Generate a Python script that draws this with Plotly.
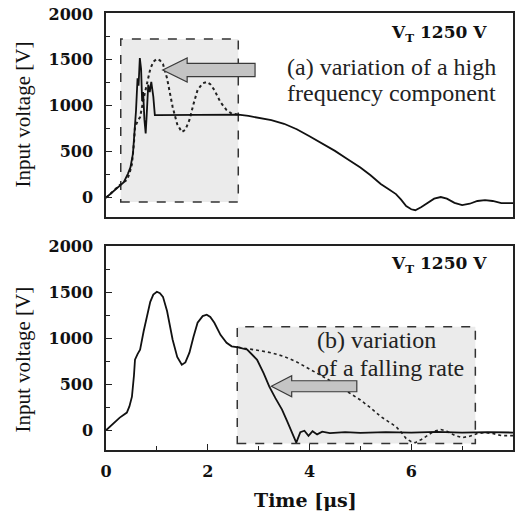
import plotly.graph_objects as go

# ---------------- data ----------------
# early part with a high-frequency component (top panel, solid)
fast_early_t = [0, 0.1, 0.2, 0.27, 0.35, 0.43, 0.48, 0.53, 0.56, 0.59, 0.62, 0.64, 0.665, 0.69,
                0.71, 0.73, 0.755, 0.78, 0.80, 0.83, 0.86, 0.89, 0.93, 0.96, 1.0, 1.5, 2.0, 2.4, 2.6]
fast_early_v = [0, 50, 95, 125, 170, 260, 330, 480, 700, 950, 1300, 1220, 1520, 1400,
                1050, 1150, 850, 700, 900, 1230, 1150, 1260, 1100, 900, 900, 900, 900, 905, 905]

# early part with slow oscillation (top panel dotted, bottom panel solid)
slow_early_t = [0, 0.1, 0.2, 0.27, 0.35, 0.41, 0.46, 0.51, 0.55, 0.57, 0.62, 0.67, 0.74, 0.80, 0.87,
                0.93, 1.0, 1.06, 1.12, 1.2, 1.31, 1.40, 1.49, 1.56, 1.64, 1.72, 1.80, 1.9, 1.98,
                2.05, 2.13, 2.25, 2.37, 2.47, 2.56, 2.6]
slow_early_v = [0, 55, 100, 138, 170, 193, 260, 367, 600, 769, 830, 878, 1080, 1237, 1400,
                1480, 1510, 1495, 1455, 1300, 987, 800, 715, 740, 846, 1020, 1172, 1245, 1260,
                1235, 1172, 1040, 954, 915, 911, 905]

# slow falling tail (top panel solid, bottom panel dotted)
slow_tail_t = [2.6, 2.8, 3.0, 3.25, 3.5, 3.75, 4.0, 4.25, 4.5, 4.75, 5.0, 5.2, 5.4, 5.55, 5.7,
               5.8, 5.9, 6.0, 6.08, 6.2, 6.3, 6.45, 6.58, 6.7, 6.85, 7.0, 7.15, 7.3, 7.45, 7.6,
               7.77, 8.0]
slow_tail_v = [905, 890, 870, 845, 805, 745, 670, 590, 510, 420, 330, 245, 150, 95, 40,
               -20, -90, -125, -135, -100, -65, -10, 8, -10, -55, -80, -65, -35, -25, -35,
               -58, -58]

# fast falling tail (bottom panel solid)
fast_tail_t = [2.6, 2.78, 2.97, 3.1, 3.21, 3.33, 3.46, 3.56, 3.66, 3.74, 3.82, 3.90, 3.98, 4.06,
               4.15, 4.25, 4.4, 4.7, 5.0, 5.5, 6.0, 6.5, 7.0, 7.5, 8.0]
fast_tail_v = [905, 878, 769, 620, 476, 350, 225, 100, -25, -134, -20, -5, -60, -10,
               -45, -15, -30, -20, -28, -20, -25, -18, -25, -20, -25]

x_ticks = [0, 2, 4, 6, 8]
y_ticks = [0, 500, 1000, 1500, 2000]
y_title = "Input voltage [V]"
x_title = "Time [\u03bcs]"
vt_label = "V<sub>T</sub> 1250 V"
text_a = ["(a) variation of a high", "frequency component"]
text_b = ["(b) variation", "of a falling rate"]

# ---------------- figure ----------------
top_solid_t = fast_early_t + slow_tail_t[1:]
top_solid_v = fast_early_v + slow_tail_v[1:]
bot_solid_t = slow_early_t + fast_tail_t[1:]
bot_solid_v = slow_early_v + fast_tail_v[1:]

fig = go.Figure()
# top panel
fig.add_trace(go.Scatter(x=slow_early_t, y=slow_early_v, mode="lines", xaxis="x2", yaxis="y2",
                         line=dict(color="#222", width=2, dash="dot")))
fig.add_trace(go.Scatter(x=top_solid_t, y=top_solid_v, mode="lines", xaxis="x2", yaxis="y2",
                         line=dict(color="#111", width=1.8)))
# bottom panel
fig.add_trace(go.Scatter(x=slow_tail_t, y=slow_tail_v, mode="lines", xaxis="x", yaxis="y",
                         line=dict(color="#222", width=1.6, dash="dot")))
fig.add_trace(go.Scatter(x=bot_solid_t, y=bot_solid_v, mode="lines", xaxis="x", yaxis="y",
                         line=dict(color="#111", width=1.8)))

tickfont = dict(family="DejaVu Serif", size=16, color="#111", weight="bold")
axline = dict(showline=True, linecolor="#222", linewidth=1.5, mirror=True, showgrid=False,
              zeroline=False)

fig.update_layout(
    width=518, height=513, showlegend=False,
    margin=dict(l=106, r=3, t=13, b=63),
    paper_bgcolor="white", plot_bgcolor="white",
    xaxis=dict(domain=[0, 1], range=[0, 8], anchor="y", tickvals=x_ticks, ticks="inside",
               ticklen=6, tickwidth=1.3, tickcolor="#222", tickfont=tickfont,
               ticklabelstandoff=6,
               minor=dict(dtick=1, ticks="inside", ticklen=4, tickwidth=1.2, tickcolor="#222"),
               **axline),
    yaxis=dict(domain=[0, 0.467], range=[-215, 2010], anchor="x", tickvals=y_ticks,
               ticks="inside", ticklen=6, tickwidth=1.3, tickcolor="#222", tickfont=tickfont,
               ticklabelstandoff=8,
               minor=dict(dtick=250, tick0=0, ticks="inside", ticklen=4, tickwidth=1.2,
                          tickcolor="#222"),
               **axline),
    xaxis2=dict(domain=[0, 1], range=[0, 8], anchor="y2", showticklabels=False, ticks="",
                **axline),
    yaxis2=dict(domain=[0.533, 1], range=[-210, 2010], anchor="x2", tickvals=y_ticks,
                ticks="inside", ticklen=6, tickwidth=1.3, tickcolor="#222", tickfont=tickfont,
                ticklabelstandoff=8,
                minor=dict(dtick=250, tick0=0, ticks="inside", ticklen=4, tickwidth=1.2,
                           tickcolor="#222"),
                **axline),
)

# shaded dashed boxes
box_style = dict(type="rect", layer="below", fillcolor="#ebebeb",
                 line=dict(color="#333", width=1.5, dash="dash"))
fig.add_shape(xref="x2", yref="y2", x0=0.29, x1=2.60, y0=-47, y1=1727, **box_style)
fig.add_shape(xref="x", yref="y", x0=2.58, x1=7.26, y0=-145, y1=1128, **box_style)


def block_arrow(tip_x, tip_y, head_len, head_half, shaft_half, tail_x):
    hx = tip_x + head_len
    pts = [(tip_x, tip_y), (hx, tip_y + head_half), (hx, tip_y + shaft_half),
           (tail_x, tip_y + shaft_half), (tail_x, tip_y - shaft_half),
           (hx, tip_y - shaft_half), (hx, tip_y - head_half)]
    return "M " + " L ".join(f"{px},{py}" for px, py in pts) + " Z"


arrow_style = dict(type="path", fillcolor="#c4c4c4", line=dict(color="#3a3a3a", width=1.2))
fig.add_shape(xref="x2", yref="y2", path=block_arrow(1.115, 1390, 0.48, 130, 72, 2.93),
              **arrow_style)
fig.add_shape(xref="x", yref="y", path=block_arrow(3.25, 480, 0.40, 114, 60, 4.93),
              **arrow_style)

serif = "Liberation Serif, Times New Roman, serif"
ann = []
# y titles
ann.append(dict(text=y_title, xref="paper", yref="paper", x=-0.205, y=0.767, textangle=-90,
                showarrow=False, xanchor="center", yanchor="middle",
                font=dict(family=serif, size=21, color="#111")))
ann.append(dict(text=y_title, xref="paper", yref="paper", x=-0.205, y=0.206, textangle=-90,
                showarrow=False, xanchor="center", yanchor="middle",
                font=dict(family=serif, size=21, color="#111")))
# x title
ann.append(dict(text=x_title, xref="paper", yref="paper", x=0.49, y=-0.114, showarrow=False,
                xanchor="center", yanchor="middle",
                font=dict(family="DejaVu Serif", size=19, color="#111", weight="bold")))
# V_T labels
for yy in (0.952, 0.4256):
    ann.append(dict(text=vt_label, xref="paper", yref="paper", x=0.941, y=yy, showarrow=False,
                    xanchor="right", yanchor="middle",
                    font=dict(family="DejaVu Serif", size=17, color="#111", weight="bold")))
# (a) text, right aligned
for line, yy in zip(text_a, (0.876, 0.817)):
    ann.append(dict(text=line, xref="paper", yref="paper", x=0.963, y=yy, showarrow=False,
                    xanchor="right", yanchor="middle",
                    font=dict(family=serif, size=24, color="#222")))
# (b) text, left aligned
for line, yy in zip(text_b, (0.2517, 0.1876)):
    ann.append(dict(text=line, xref="paper", yref="paper", x=0.513, y=yy, showarrow=False,
                    xanchor="left", yanchor="middle",
                    font=dict(family=serif, size=24, color="#222")))
fig.update_layout(annotations=ann)

fig.write_html("out.html")
